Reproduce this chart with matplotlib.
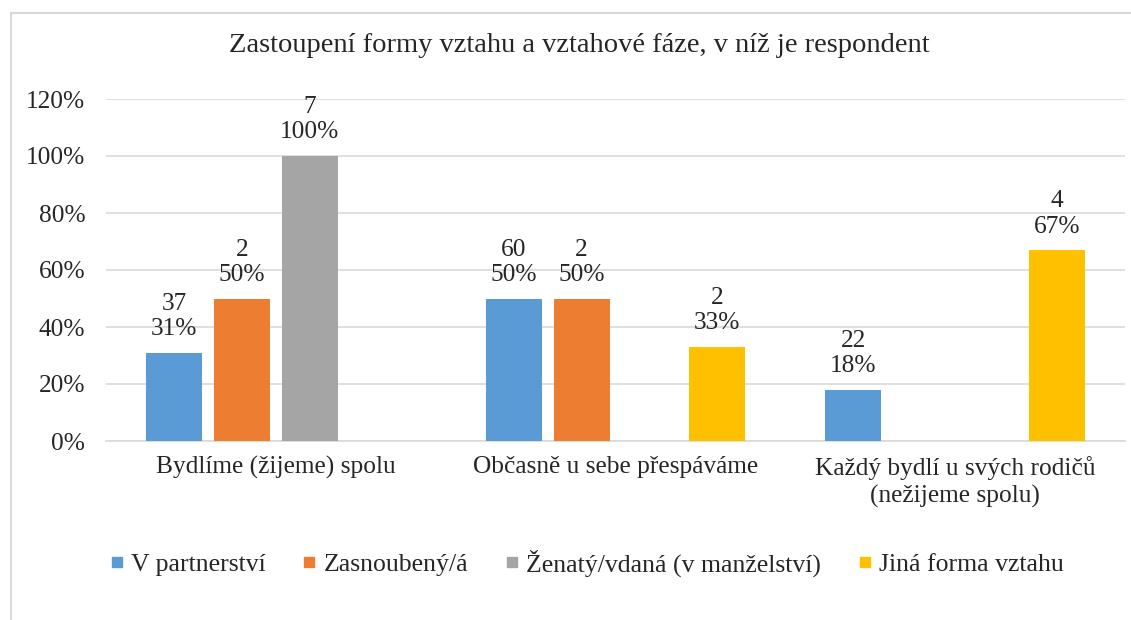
import numpy as np
import matplotlib
matplotlib.use("Agg")
import matplotlib.pyplot as plt
from matplotlib.lines import Line2D

plt.rcParams["font.family"] = ["Liberation Serif", "DejaVu Serif"]

# Data
categories = ["Bydlíme (žijeme) spolu", "Občasně u sebe přespáváme",
              "Každý bydlí u svých rodičů\n(nežijeme spolu)"]
series_names = ["V partnerství", "Zasnoubený/á", "Ženatý/vdaná (v manželství)", "Jiná forma vztahu"]
partnerstvi_pct = [31, 50, 18]
partnerstvi_n = [37, 60, 22]
zasnoubeny_pct = [50, 50, None]
zasnoubeny_n = [2, 2, None]
zenaty_pct = [100, None, None]
zenaty_n = [7, None, None]
jina_pct = [None, 33, 67]
jina_n = [None, 2, 4]

colors = ["#5B9BD5", "#ED7D31", "#A5A5A5", "#FFC000"]
text_col = "#262626"
grid_col = "#D9D9D9"

pcts = [partnerstvi_pct, zasnoubeny_pct, zenaty_pct, jina_pct]
counts = [partnerstvi_n, zasnoubeny_n, zenaty_n, jina_n]

fig = plt.figure(figsize=(11.31, 6.2), dpi=100)
ax = fig.add_axes([106 / 1131, 1 - 441 / 620, (1125 - 106) / 1131, (441 - 99) / 620])

x = np.arange(len(categories))
offsets = [-0.3, -0.1, 0.1, 0.3]
width = 0.165

for i in range(4):
    for j in range(len(categories)):
        v = pcts[i][j]
        if v is None:
            continue
        ax.bar(x[j] + offsets[i], v / 100, width, color=colors[i], zorder=3)
        ax.annotate(f"{counts[i][j]}\n{v}%", (x[j] + offsets[i], v / 100),
                    xytext=(0, 9), textcoords="offset points", ha="center", va="bottom",
                    fontsize=18.3, color=text_col, linespacing=1.2)

ax.set_xlim(-0.5, 2.5)
ax.set_ylim(0, 1.2)
ax.set_yticks(np.arange(0, 1.21, 0.2))
ax.set_yticklabels([f"{int(round(t * 100))}%" for t in np.arange(0, 1.21, 0.2)])
ax.set_xticks(x)
ax.set_xticklabels(categories, linespacing=1.25)
ax.tick_params(axis="both", length=0, labelsize=18.3, colors=text_col)
ax.tick_params(axis="y", pad=15)
ax.tick_params(axis="x", pad=11)
ax.grid(axis="y", color=grid_col, linewidth=1.2, zorder=0)
for s in ["top", "right", "left"]:
    ax.spines[s].set_visible(False)
ax.spines["bottom"].set_color(grid_col)
ax.spines["bottom"].set_linewidth(1.2)

fig.text(0.512, 1 - 45 / 620, "Zastoupení formy vztahu a vztahové fáze, v níž je respondent",
         ha="center", va="center", fontsize=20.5, color=text_col)

handles = [Line2D([], [], marker="s", linestyle="none", markersize=7, color=c) for c in colors]
fig.legend(handles, series_names, loc="center", bbox_to_anchor=(0.519, 1 - 563 / 620), ncol=4,
           frameon=False, fontsize=18.5, handlelength=0.5, handletextpad=0.3, columnspacing=1.45,
           labelcolor=text_col)

# outer border of the chart frame
fig.add_artist(Line2D([11 / 1131, 1], [1 - 13 / 620, 1 - 13 / 620], color=grid_col, linewidth=1.5))
fig.add_artist(Line2D([11 / 1131, 11 / 1131], [0, 1 - 13 / 620], color=grid_col, linewidth=1.5))

fig.savefig("out.png", dpi=100)
